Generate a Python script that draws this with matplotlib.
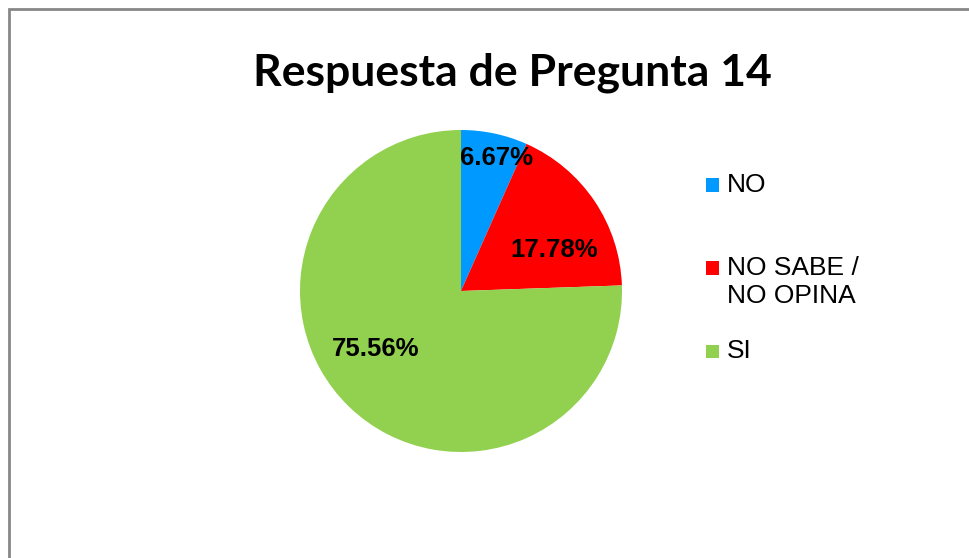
import matplotlib
matplotlib.use("Agg")
import matplotlib.pyplot as plt
from matplotlib.patches import Rectangle

title = "Respuesta de Pregunta 14"
categories = ["NO", "NO SABE /\nNO OPINA", "SI"]
values = [6.67, 17.78, 75.56]
colors = ["#0099FF", "#FF0000", "#92D050"]

W, H = 969, 558
fig = plt.figure(figsize=(W / 100, H / 100), dpi=100)

# Chart border (gray frame)
fig.patches.append(Rectangle((8.5 / W, -0.05), 1.2, 1 - 8.5 / H + 0.05,
                             transform=fig.transFigure, fill=False,
                             edgecolor="#878787", linewidth=2.0))

cx, cy, r = 461, H - 291, 161
ax = fig.add_axes([(cx - r) / W, (cy - r) / H, 2 * r / W, 2 * r / H])
wedges, texts, autotexts = ax.pie(values, colors=colors, startangle=90,
                                  counterclock=False, autopct="%.2f%%",
                                  pctdistance=0.7,
                                  wedgeprops=dict(linewidth=0))
ax.set_xlim(-1, 1)
ax.set_ylim(-1, 1)
ax.set_aspect("equal")
ax.axis("off")

label_pos = [(0.22, 0.825), (0.578, 0.255), (-0.528, -0.36)]
for t, p, v in zip(autotexts, label_pos, values):
    t.set_text(f"{v:.2f}%")
    t.set_position(p)
    t.set_fontfamily("Liberation Sans")
    t.set_fontweight("bold")
    t.set_fontsize(18.5)
    t.set_color("black")
    t.set_ha("center")
    t.set_va("center")

fig.text(512 / W, 1 - 73 / H, title, ha="center", va="center",
         fontsize=32, fontweight="bold", family="Lato", color="black")

# Legend entries
leg_y = [185, 268, 351]
for cat, col, y in zip(categories, colors, leg_y):
    fig.patches.append(Rectangle((706 / W, 1 - (y + 6.5) / H), 13 / W, 13 / H,
                                 transform=fig.transFigure, facecolor=col,
                                 edgecolor="none"))
    fig.text(727 / W, 1 - (y - 12) / H, cat, ha="left", va="top",
             fontsize=19, family="Liberation Sans", color="black",
             linespacing=1.22)

fig.savefig("out.png", dpi=100, facecolor="white")
